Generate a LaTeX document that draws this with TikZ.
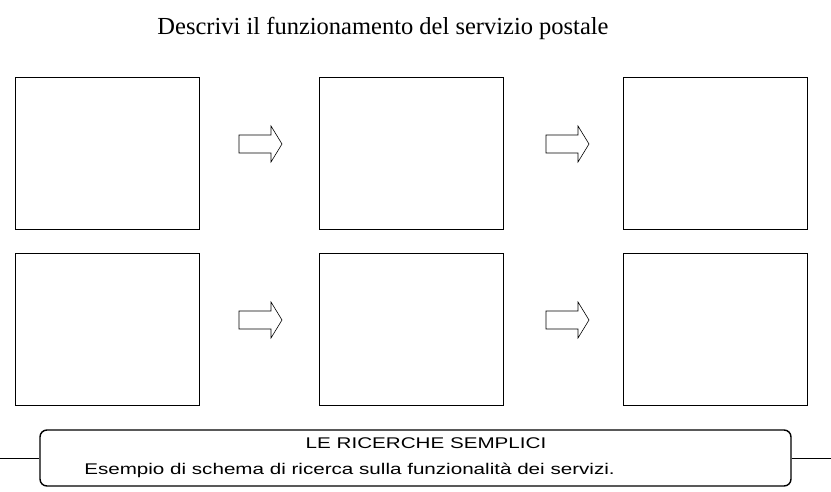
\documentclass[tikz,border=0pt]{standalone}
\usepackage{fontspec}
\setmainfont{Liberation Serif}
\newfontfamily\arialfont{Liberation Sans}
\usetikzlibrary{positioning}
\tikzset{
  cella/.style={draw,line width=0.6pt,minimum width=184pt,minimum height=152pt,inner sep=0pt},
  freccia/.style={draw,line width=0.6pt},
  scritta/.style={inner sep=0pt,font=\arialfont\fontsize{15.5}{18}\selectfont,xscale=1.33}
}
\begin{document}
\begin{tikzpicture}[x=1pt,y=1pt,yscale=-1]
\useasboundingbox (0,0) rectangle (831,491);

% titolo
\node (titolo) at (383,28) {\fontsize{24.5}{28}\selectfont Descrivi il funzionamento del servizio postale};

% riquadri
\node[cella] (a1) at (107,153) {};
\node[cella] (a2) at (411,153) {};
\node[cella] (a3) at (715,153) {};
\node[cella] (b1) at (107,329) {};
\node[cella] (b2) at (411,329) {};
\node[cella] (b3) at (715,329) {};

% frecce
\foreach \x/\y in {239/144,546/144,239/320,546/320}{
  \draw[freccia] (\x,\y-9) -- (\x+32,\y-9) -- (\x+32,\y-18) -- (\x+43,\y) -- (\x+32,\y+18) -- (\x+32,\y+9) -- (\x,\y+9) -- cycle;
}

% cartiglio
\node[draw,line width=1.4pt,rounded corners=7pt,minimum width=751pt,minimum height=56pt] (cartiglio) at (415.5,458) {};
\coordinate (sx) at (0,458);
\coordinate (dx) at (831,458);
\draw[line width=0.6pt] (sx) -- (cartiglio.west);
\draw[line width=0.6pt] (cartiglio.east) -- (dx);
\node[scritta] (intest) at (426,443) {LE RICERCHE SEMPLICI};
\node[scritta,anchor=west] (sottot) at (84,470) {Esempio di schema di ricerca sulla funzionalità dei servizi.};
\end{tikzpicture}
\end{document}
